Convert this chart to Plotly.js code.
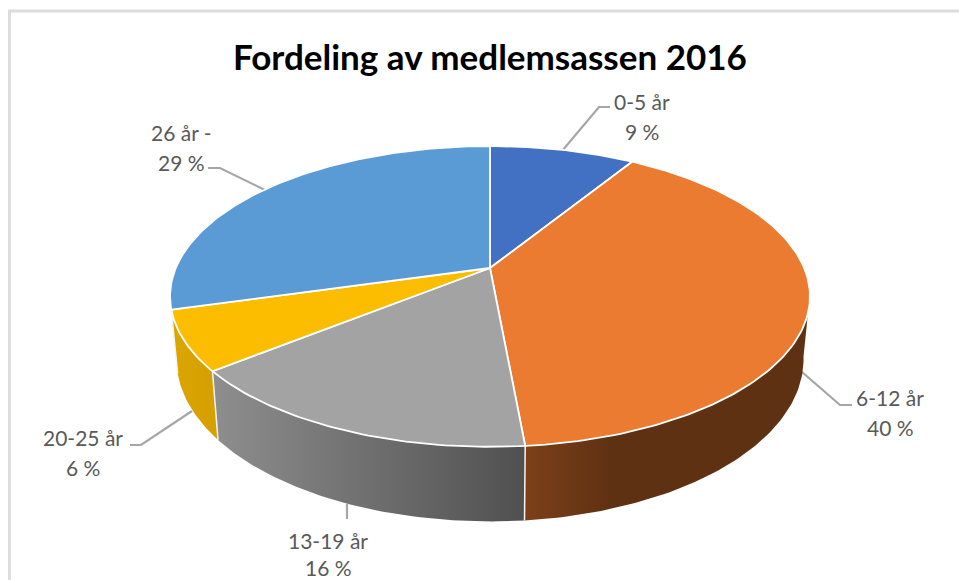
<!DOCTYPE html>
<html><head><meta charset="utf-8">
<script src="https://cdn.plot.ly/plotly-3.0.1.min.js"></script>
<style>html,body{margin:0;padding:0;background:#fff}</style></head>
<body><div id="chart" style="width:959px;height:580px"></div>
<script>
const ageGroups = ['0-5 år','6-12 år','13-19 år','20-25 år','26 år -'];
const shownPercent = [9,40,16,6,29];
const sliceShares = [8.8,39.75,15.65,6.4,29.4];
const topColors = ['#4270C2','#EA7B31','#A3A3A3','#FCBD00','#5B9BD5'];
const wallScales = [
  null,
  [[0,'#7d4019'],[0.3,'#5f3113'],[1,'#5f3113']],
  [[0,'#8e8e8e'],[1,'#505050']],
  [[0,'#dcA600'],[1,'#d49f00']],
  null
];
const chartTitle = 'Fordeling av medlemsassen 2016';
// projection of the tilted disc onto the page
const P = {cx:490, cy:268, A:314.2, B:145, k:0.189, depth:60.5, pull:0.98};
function rim(deg){
  const t = deg*Math.PI/180, u = Math.sin(t), v = Math.cos(t), w = 1+P.k*v;
  return {x:P.cx+P.A*u/w, y:P.cy-P.B*v/w, w:w};
}
function base(deg){
  const r = rim(deg);
  return {x:P.cx+(r.x-P.cx)*P.pull, y:r.y+P.depth/r.w};
}
const labelPlacement = [
  {x:642,y1:101,y2:131, lead:[[562,151],[599,107],[610,107]]},
  {x:890,y1:397,y2:427, lead:[[802,372],[840,405],[852,405]]},
  {x:328,y1:540,y2:567, lead:[[347,504],[347,519]]},
  {x:83, y1:437,y2:467, lead:[[192,411],[141,445],[130,445]]},
  {x:181,y1:132,y2:162, lead:[[265,190],[220,168],[208,168]]}
];
const traces = [], annotations = [];
let cum = 0;
const spans = sliceShares.map(s => { const a = cum*3.6; cum += s; return [a, cum*3.6]; });
function range(a,b){ const o=[]; const n=Math.max(2,Math.ceil((b-a)/1)); for(let i=0;i<=n;i++) o.push(a+(b-a)*i/n); return o; }
// leaders
labelPlacement.forEach(l=>{
  traces.push({type:'scatter',mode:'lines',x:l.lead.map(p=>p[0]),y:l.lead.map(p=>p[1]),
    line:{color:'#a6a6a6',width:2.2},hoverinfo:'skip'});
});
// walls
spans.forEach((s,i)=>{
  if(!wallScales[i]) return;
  const a = Math.max(s[0],100), b = Math.min(s[1],262);
  if(b<=a) return;
  const degs = range(a,b);
  const top = degs.map(rim), bot = degs.map(base).reverse();
  const pts = top.concat(bot); pts.push(top[0]);
  traces.push({type:'scatter',mode:'lines',x:pts.map(p=>p.x),y:pts.map(p=>p.y),fill:'toself',
    fillgradient:{type:'horizontal',colorscale:wallScales[i]},
    line:{color:'rgba(0,0,0,0)',width:0},hoverinfo:'skip'});
});
// white seams between walls
spans.forEach((s,i)=>{
  if(s[0]<=100||s[0]>=262) return;
  const p=rim(s[0]), q=base(s[0]);
  traces.push({type:'scatter',mode:'lines',x:[p.x,q.x],y:[p.y,q.y],line:{color:'#f4f4f4',width:1.5},hoverinfo:'skip'});
});
// top disc
spans.forEach((s,i)=>{
  const pts=[{x:P.cx,y:P.cy}].concat(range(s[0],s[1]).map(rim)); pts.push({x:P.cx,y:P.cy});
  traces.push({type:'scatter',mode:'lines',x:pts.map(p=>p.x),y:pts.map(p=>p.y),fill:'toself',fillcolor:topColors[i],
    line:{color:'#ffffff',width:1.8},hoverinfo:'skip'});
});
// labels
const lf = {family:'Lato, sans-serif',size:21,color:'#595959'};
ageGroups.forEach((g,i)=>{
  const l=labelPlacement[i];
  annotations.push({x:l.x,y:l.y1,xref:'x',yref:'y',text:g,showarrow:false,font:lf,xanchor:'center',yanchor:'middle'});
  annotations.push({x:l.x,y:l.y2,xref:'x',yref:'y',text:shownPercent[i]+' %',showarrow:false,font:lf,xanchor:'center',yanchor:'middle'});
});
annotations.push({x:490,y:56,xref:'x',yref:'y',text:'<b>'+chartTitle+'</b>',showarrow:false,
  font:{family:'Lato, sans-serif',size:35,color:'#000000'},xanchor:'center',yanchor:'middle'});
Plotly.newPlot('chart',traces,{
  width:959,height:580,margin:{l:0,r:0,t:0,b:0},showlegend:false,
  paper_bgcolor:'#ffffff',plot_bgcolor:'#ffffff',
  xaxis:{range:[0,959],visible:false,fixedrange:true},
  yaxis:{range:[580,0],visible:false,fixedrange:true},
  annotations:annotations,
  shapes:[{type:'path',path:'M 9.5 590 L 9.5 11 L 970 11',xref:'x',yref:'y',line:{color:'#dcdcdc',width:3}}]
},{displayModeBar:false,staticPlot:true});
</script></body></html>
